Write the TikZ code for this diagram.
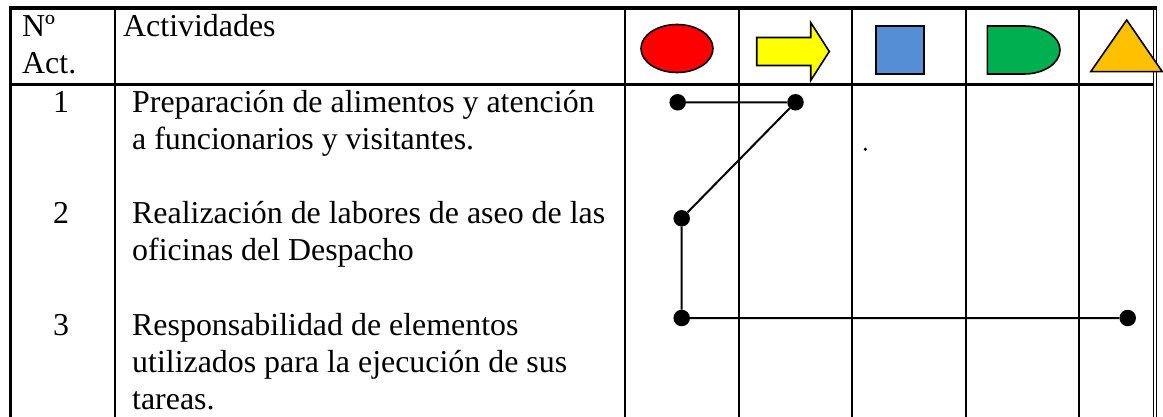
\documentclass[tikz,border=0pt]{standalone}
\usepackage{fontspec}
\setmainfont{Liberation Serif}
\usetikzlibrary{shapes.geometric}
\definecolor{shred}{HTML}{FF0000}
\definecolor{shyellow}{HTML}{FFFF00}
\definecolor{shblue}{HTML}{558ED5}
\definecolor{shgreen}{HTML}{00B050}
\definecolor{shorange}{HTML}{FFC000}
\tikzset{
  thickrule/.style={line width=3.8pt},
  thinrule/.style={line width=2.2pt},
  hairrule/.style={line width=1.4pt},
  txt/.style={anchor=base west, inner sep=0pt, font=\fontsize{31.9}{37}\selectfont},
  numtxt/.style={anchor=base, inner sep=0pt, font=\fontsize{31.9}{37}\selectfont},
  symb/.style={draw=black, line width=1.6pt},
  flowdot/.style={circle, fill=black, inner sep=0pt, minimum size=16.5pt},
  conn/.style={line width=2pt}
}
\begin{document}
\begin{tikzpicture}[x=1pt,y=-1pt]
\useasboundingbox (0,0) rectangle (1163,417);
% header symbols
\node[symb, ellipse, fill=shred, minimum width=72pt, minimum height=48pt, inner sep=0pt] (oval) at (677,48.5) {};
\draw[symb, fill=shyellow] (756.7,37.5) -- (810.7,37.5) -- (810.7,22.5) -- (829.3,51.5) -- (810.7,80.5) -- (810.7,65.5) -- (756.7,65.5) -- cycle;
\node[symb, rectangle, fill=shblue, minimum width=48pt, minimum height=48pt, inner sep=0pt] (sq) at (899.7,50) {};
\draw[symb, fill=shgreen] (987.3,26) -- (1024,26) .. controls (1043.9,26) and (1060,36.75) .. (1060,50) .. controls (1060,63.25) and (1043.9,74) .. (1024,74) -- (987.3,74) -- cycle;
% table rules
\draw[thinrule] (10.5,84.5) -- (1153.3,84.5);
\foreach \xx in {115,625,739,852,966,1079} \draw[thinrule] (\xx,8) -- (\xx,417);
\draw[hairrule] (1153.3,8) -- (1153.3,417);
\draw[hairrule] (1156.5,8) -- (1156.5,417);
\draw[thickrule] (10.5,6.2) -- (10.5,417);
\draw[thickrule] (8.6,8) -- (1157.2,8);
\draw[symb, fill=shorange] (1126.7,20) -- (1162.3,71.7) -- (1090.7,71.7) -- cycle;
% texts
\node[txt] (hno) at (22,37) {Nº};
\node[txt] (hact) at (22,74) {Act.};
\node[txt] (hacts) at (123,37) {Actividades};
\node[numtxt] (n1) at (61,113) {1};
\node[numtxt] (n2) at (61,224) {2};
\node[numtxt] (n3) at (61,335) {3};
\node[txt] (a1a) at (132,113) {Preparación de alimentos y atención};
\node[txt] (a1b) at (132,150) {a funcionarios y visitantes.};
\node[txt] (a2a) at (132,224) {Realización de labores de aseo de las};
\node[txt] (a2b) at (132,261) {oficinas del Despacho};
\node[txt] (a3a) at (132,335) {Responsabilidad de elementos};
\node[txt] (a3b) at (132,372) {utilizados para la ejecución de sus};
\node[txt] (a3c) at (132,409) {tareas.};
% flow
\node[flowdot] (d1) at (677.7,102.3) {};
\node[flowdot] (d2) at (795.5,102.3) {};
\node[flowdot] (d3) at (681.7,218.3) {};
\node[flowdot] (d4) at (681.7,318) {};
\node[flowdot] (d5) at (1127.7,318) {};
\draw[conn] (d1) -- (d2) -- (d3) -- (d4) -- (d5);
\node[circle, fill=black, inner sep=0pt, minimum size=3.5pt] (sdot) at (865.3,149.3) {};
\end{tikzpicture}
\end{document}
